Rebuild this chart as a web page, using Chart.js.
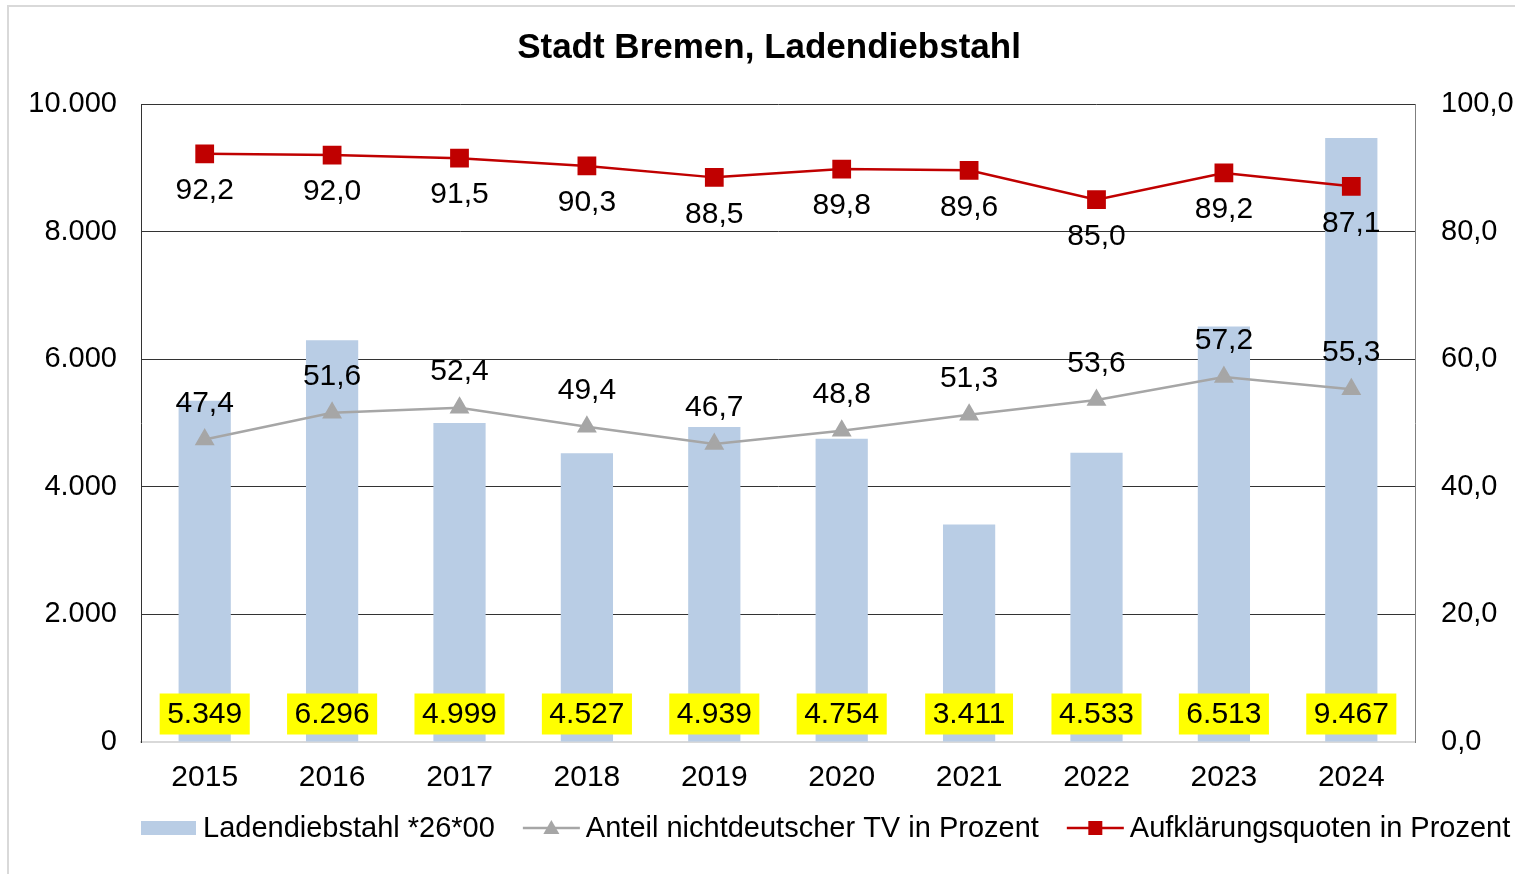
<!DOCTYPE html>
<html>
<head>
<meta charset="utf-8">
<script src="https://cdn.jsdelivr.net/npm/chart.js@4/dist/chart.umd.min.js"></script>
<style>
  html, body { margin: 0; padding: 0; background: #fff; }
  #wrap { position: relative; width: 1515px; height: 874px; overflow: hidden; }
  #frame { position: absolute; left: 7px; top: 5px; width: 1530px; height: 900px; border: 2px solid #d9d9d9; pointer-events: none; }
  canvas { position: absolute; left: 0; top: 0; }
</style>
</head>
<body>
<div id="wrap">
  <canvas id="chart" width="1515" height="874" style="width:1515px;height:874px"></canvas>
  <div id="frame"></div>
</div>
<script>
const chartTitle = 'Stadt Bremen, Ladendiebstahl';
const years = ['2015', '2016', '2017', '2018', '2019', '2020', '2021', '2022', '2023', '2024'];
const ladendiebstahl = [5349, 6296, 4999, 4527, 4939, 4754, 3411, 4533, 6513, 9467];
const anteilNichtdeutsch = [47.4, 51.6, 52.4, 49.4, 46.7, 48.8, 51.3, 53.6, 57.2, 55.3];
const aufklaerungsquote = [92.2, 92.0, 91.5, 90.3, 88.5, 89.8, 89.6, 85.0, 89.2, 87.1];
const leftTicks = [0, 2000, 4000, 6000, 8000, 10000];
const rightTicks = [0, 20, 40, 60, 80, 100];

const FONT = '"Liberation Sans", Arial, sans-serif';

function fmtThousands(v) {
  return String(v).replace(/\B(?=(\d{3})+(?!\d))/g, '.');
}
function fmtDecimal(v) {
  return v.toFixed(1).replace('.', ',');
}

// value labels: yellow boxes at bar bottom, line labels above/below points
const valueLabels = {
  id: 'valueLabels',
  afterDatasetsDraw(chart) {
    const { ctx, chartArea } = chart;
    ctx.save();
    ctx.font = '30px ' + FONT;
    ctx.textAlign = 'center';
    ctx.textBaseline = 'middle';
    chart.data.datasets.forEach((ds, i) => {
      const meta = chart.getDatasetMeta(i);
      meta.data.forEach((el, j) => {
        const v = ds.data[j];
        if (ds.type === 'bar') {
          const txt = fmtThousands(v);
          const w = ctx.measureText(txt).width + 15;
          const y = chartArea.bottom - 28;
          ctx.fillStyle = '#ffff00';
          ctx.fillRect(el.x - w / 2, y - 20.5, w, 41);
          ctx.fillStyle = '#000';
          ctx.fillText(txt, el.x, y + 1);
        } else {
          ctx.fillStyle = '#000';
          ctx.fillText(fmtDecimal(v), el.x, el.y + ds.labelOffset);
        }
      });
    });
    ctx.restore();
  }
};

// title and legend
const titleLegend = {
  id: 'titleLegend',
  afterDraw(chart) {
    const { ctx, chartArea } = chart;
    ctx.save();
    ctx.fillStyle = '#000';
    ctx.font = 'bold 35px ' + FONT;
    ctx.textAlign = 'center';
    ctx.textBaseline = 'middle';
    ctx.fillText(chartTitle, 769, 48);

    ctx.font = '29px ' + FONT;
    ctx.textAlign = 'left';
    let x = chartArea.left;
    const y = 828;
    chart.data.datasets.forEach((ds) => {
      let textX;
      if (ds.type === 'bar') {
        ctx.fillStyle = ds.backgroundColor;
        ctx.fillRect(x, y - 7, 55, 14);
        textX = x + 62;
      } else {
        ctx.strokeStyle = ds.borderColor;
        ctx.lineWidth = 2.5;
        ctx.beginPath();
        ctx.moveTo(x, y);
        ctx.lineTo(x + 57, y);
        ctx.stroke();
        ctx.fillStyle = ds.pointBackgroundColor;
        const cx = x + 28.5;
        if (ds.pointStyle === 'triangle') {
          ctx.beginPath();
          ctx.moveTo(cx, y - 8);
          ctx.lineTo(cx + 8, y + 6);
          ctx.lineTo(cx - 8, y + 6);
          ctx.closePath();
          ctx.fill();
        } else {
          ctx.fillRect(cx - 7, y - 7, 14, 14);
        }
        textX = x + 63;
      }
      ctx.fillStyle = '#000';
      ctx.fillText(ds.label, textX, y + 1);
      x = textX + ctx.measureText(ds.label).width + 28;
    });
    ctx.restore();
  }
};

new Chart(document.getElementById('chart'), {
  data: {
    labels: years,
    datasets: [
      {
        type: 'bar',
        label: 'Ladendiebstahl *26*00',
        data: ladendiebstahl,
        backgroundColor: '#b9cde5',
        barPercentage: 0.41,
        categoryPercentage: 1,
        yAxisID: 'y',
        order: 3
      },
      {
        type: 'line',
        label: 'Anteil nichtdeutscher TV in Prozent',
        data: anteilNichtdeutsch,
        borderColor: '#a6a6a6',
        backgroundColor: '#a6a6a6',
        pointBackgroundColor: '#a6a6a6',
        pointBorderColor: '#a6a6a6',
        pointStyle: 'triangle',
        pointRadius: 9,
        borderWidth: 2.5,
        tension: 0,
        yAxisID: 'y1',
        labelOffset: -36,
        order: 2
      },
      {
        type: 'line',
        label: 'Aufklärungsquoten in Prozent',
        data: aufklaerungsquote,
        borderColor: '#c00000',
        backgroundColor: '#c00000',
        pointBackgroundColor: '#c00000',
        pointBorderColor: '#c00000',
        pointStyle: 'rect',
        pointRadius: 11.5,
        borderWidth: 2.5,
        tension: 0,
        yAxisID: 'y1',
        labelOffset: 37,
        order: 1
      }
    ]
  },
  options: {
    responsive: false,
    animation: false,
    layout: { padding: { top: 104, left: 0, right: 0, bottom: 0 } },
    plugins: {
      legend: { display: false },
      title: { display: false },
      tooltip: { enabled: false }
    },
    scales: {
      x: {
        grid: { display: false },
        border: { display: true, color: '#d9d9d9', width: 2 },
        ticks: { color: '#000', font: { family: FONT, size: 30 }, padding: 10, maxRotation: 0 },
        afterFit(scale) { scale.height = 132; }
      },
      y: {
        position: 'left',
        min: 0,
        max: 10000,
        afterBuildTicks(scale) { scale.ticks = leftTicks.map(v => ({ value: v })); },
        grid: {
          drawTicks: false,
          lineWidth: 1,
          color: (c) => (c.tick && c.tick.value === 0 ? 'rgba(0,0,0,0)' : '#333333')
        },
        border: { display: true, color: '#333333', width: 1 },
        ticks: {
          color: '#000',
          font: { family: FONT, size: 29 },
          padding: 24,
          callback: (v) => fmtThousands(v)
        },
        afterFit(scale) { scale.width = 141; }
      },
      y1: {
        position: 'right',
        min: 0,
        max: 100,
        afterBuildTicks(scale) { scale.ticks = rightTicks.map(v => ({ value: v })); },
        grid: { display: false, drawTicks: false },
        border: { display: true, color: '#7f7f7f', width: 1 },
        ticks: {
          color: '#000',
          font: { family: FONT, size: 29 },
          padding: 26,
          callback: (v) => fmtDecimal(v)
        },
        afterFit(scale) { scale.width = 100; }
      }
    }
  },
  plugins: [valueLabels, titleLegend]
});
</script>
</body>
</html>
